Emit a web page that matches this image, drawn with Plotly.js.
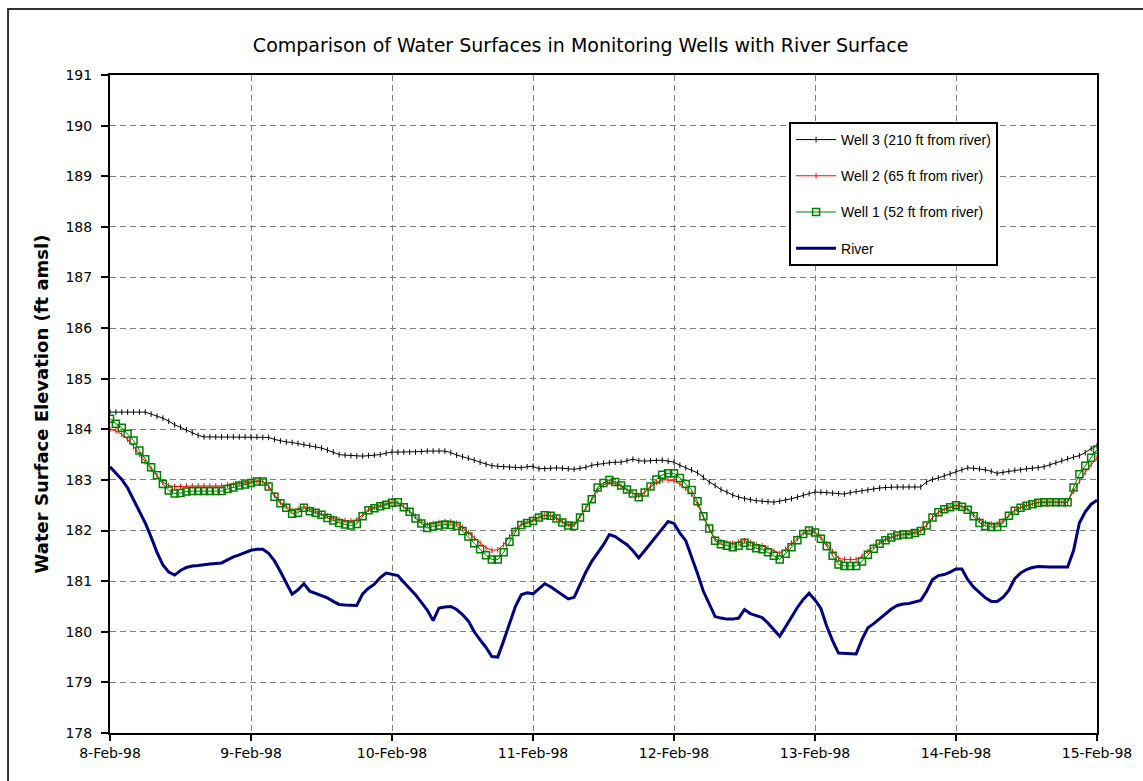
<!DOCTYPE html>
<html>
<head>
<meta charset="utf-8">
<script src="https://cdn.plot.ly/plotly-3.0.1.min.js"></script>
<style>html,body{margin:0;padding:0;background:#fff;}#chart{width:1143px;height:781px;}</style>
</head>
<body>
<div id="chart"></div>
<script>
// Hourly readings from 8-Feb-98 00:00 to 15-Feb-98 00:00
var startDate = '1998-02-08';
var tickValues = ['1998-02-08','1998-02-09','1998-02-10','1998-02-11','1998-02-12','1998-02-13','1998-02-14','1998-02-15'];
var tickLabels = ['8-Feb-98','9-Feb-98','10-Feb-98','11-Feb-98','12-Feb-98','13-Feb-98','14-Feb-98','15-Feb-98'];
var seriesNames = ['Well 3 (210 ft from river)','Well 2 (65 ft from river)','Well 1 (52 ft from river)','River'];

var well3 = [184.34,184.34,184.34,184.34,184.34,184.34,184.34,184.30,184.26,184.22,184.16,184.09,184.04,183.99,183.93,183.88,183.85,183.85,183.85,183.85,183.85,183.85,183.85,183.85,
183.85,183.85,183.84,183.84,183.80,183.77,183.75,183.74,183.72,183.70,183.68,183.66,183.63,183.59,183.55,183.50,183.49,183.48,183.47,183.47,183.48,183.49,183.50,183.53,
183.55,183.55,183.55,183.55,183.55,183.56,183.57,183.57,183.57,183.57,183.54,183.49,183.46,183.43,183.39,183.35,183.31,183.28,183.27,183.26,183.25,183.25,183.24,183.26,
183.27,183.22,183.22,183.23,183.24,183.23,183.22,183.21,183.23,183.25,183.29,183.31,183.33,183.34,183.35,183.35,183.38,183.41,183.38,183.37,183.38,183.38,183.39,183.37,
183.35,183.29,183.24,183.20,183.14,183.05,182.96,182.89,182.81,182.76,182.70,182.66,182.63,182.61,182.59,182.58,182.57,182.56,182.58,182.60,182.63,182.66,182.70,182.73,
182.76,182.76,182.75,182.74,182.73,182.72,182.75,182.77,182.78,182.80,182.82,182.84,182.85,182.86,182.86,182.86,182.86,182.86,182.86,182.96,183.01,183.04,183.08,183.12,
183.16,183.20,183.24,183.23,183.22,183.20,183.17,183.13,183.15,183.17,183.19,183.20,183.22,183.23,183.24,183.26,183.30,183.34,183.38,183.42,183.45,183.48,183.54,183.62,
183.67];

var well2 = [184.00,183.97,183.90,183.80,183.66,183.50,183.36,183.21,183.08,182.96,182.89,182.87,182.87,182.88,182.88,182.88,182.88,182.88,182.88,182.88,182.90,182.91,182.93,182.94,
182.96,182.98,182.97,182.88,182.70,182.56,182.48,182.40,182.42,182.48,182.42,182.38,182.34,182.29,182.24,182.21,182.20,182.19,182.21,182.32,182.42,182.46,182.50,182.53,
182.55,182.54,182.47,182.39,182.28,182.18,182.12,182.14,182.16,182.18,182.17,182.14,182.06,181.96,181.85,181.75,181.66,181.61,181.62,181.72,181.88,182.02,182.13,182.17,
182.20,182.26,182.30,182.29,182.25,182.18,182.12,182.12,182.28,182.45,182.60,182.80,182.90,182.96,182.93,182.87,182.80,182.74,182.69,182.76,182.86,182.95,183.00,183.00,
182.98,182.92,182.83,182.72,182.52,182.26,182.04,181.84,181.78,181.76,181.75,181.77,181.80,181.76,181.72,181.70,181.65,181.59,181.55,181.63,181.75,181.85,181.96,182.01,
181.97,181.87,181.74,181.58,181.45,181.43,181.43,181.43,181.49,181.59,181.69,181.77,181.83,181.87,181.91,181.93,181.94,181.96,182.00,182.11,182.26,182.36,182.42,182.46,
182.50,182.48,182.43,182.32,182.21,182.15,182.13,182.13,182.19,182.31,182.40,182.46,182.50,182.53,182.56,182.56,182.56,182.56,182.56,182.56,182.78,182.98,183.15,183.30,
183.43];

var well1 = [184.21,184.11,184.03,183.91,183.78,183.58,183.41,183.25,183.09,182.92,182.79,182.73,182.74,182.77,182.78,182.78,182.78,182.78,182.78,182.78,182.82,182.85,182.89,182.91,
182.94,182.97,182.97,182.87,182.67,182.54,182.45,182.33,182.35,182.45,182.38,182.35,182.31,182.25,182.20,182.15,182.12,182.10,182.13,182.28,182.40,182.44,182.48,182.51,
182.55,182.56,182.46,182.37,182.24,182.14,182.05,182.08,182.10,182.12,182.11,182.09,181.99,181.88,181.75,181.63,181.51,181.43,181.43,181.57,181.78,181.97,182.11,182.15,
182.19,182.26,182.30,182.29,182.24,182.16,182.10,182.09,182.26,182.45,182.62,182.85,182.94,183.00,182.96,182.89,182.81,182.73,182.66,182.75,182.87,183.01,183.10,183.13,
183.13,183.04,182.92,182.80,182.58,182.28,182.04,181.80,181.73,181.70,181.67,181.70,181.76,181.70,181.65,181.63,181.57,181.50,181.43,181.54,181.67,181.81,181.93,182.00,
181.96,181.84,181.69,181.50,181.33,181.30,181.30,181.30,181.39,181.52,181.64,181.74,181.81,181.86,181.90,181.92,181.92,181.95,181.99,182.10,182.26,182.36,182.42,182.46,
182.50,182.47,182.41,182.28,182.15,182.09,182.07,182.07,182.15,182.29,182.39,182.45,182.49,182.52,182.55,182.56,182.56,182.56,182.56,182.56,182.85,183.11,183.28,183.44,
183.60];

var river = [183.26,183.13,183.01,182.84,182.61,182.39,182.15,181.87,181.57,181.32,181.18,181.12,181.21,181.27,181.30,181.31,181.33,181.34,181.35,181.36,181.42,181.48,181.52,181.56,
181.61,181.63,181.63,181.55,181.40,181.19,180.96,180.74,180.83,180.95,180.80,180.76,180.72,180.67,180.60,180.54,180.53,180.52,180.52,180.75,180.86,180.94,181.07,181.16,
181.14,181.11,180.98,180.86,180.73,180.58,180.43,180.22,180.47,180.49,180.50,180.44,180.34,180.21,180.00,179.84,179.69,179.51,179.50,179.82,180.17,180.50,180.73,180.77,
180.75,180.85,180.95,180.89,180.81,180.72,180.65,180.68,180.93,181.18,181.39,181.56,181.72,181.92,181.88,181.80,181.72,181.60,181.46,181.60,181.75,181.90,182.05,182.18,
182.14,181.95,181.80,181.49,181.15,180.80,180.54,180.30,180.27,180.25,180.25,180.27,180.44,180.36,180.32,180.28,180.17,180.05,179.91,180.10,180.29,180.48,180.64,180.76,
180.63,180.46,180.11,179.82,179.58,179.57,179.56,179.56,179.85,180.08,180.16,180.26,180.36,180.45,180.52,180.55,180.56,180.59,180.62,180.80,181.03,181.11,181.13,181.18,
181.24,181.24,181.03,180.88,180.77,180.67,180.60,180.60,180.68,180.82,181.05,181.16,181.23,181.27,181.29,181.28,181.28,181.28,181.28,181.28,181.60,182.15,182.37,182.52,
182.60];

// time stamps for each hourly reading
function hourStamps(n) {
  var base = Date.parse(startDate + 'T00:00:00Z');
  var out = [];
  for (var i = 0; i < n; i++) {
    out.push(new Date(base + i * 3600000).toISOString().slice(0, 16).replace('T', ' '));
  }
  return out;
}
var times = hourStamps(river.length);

var traces = [
  {x: times, y: well3, name: seriesNames[0], type: 'scatter', mode: 'lines+markers', legendgroup: 'g3',
   line: {color: '#000000', width: 1}, marker: {symbol: 'line-ns-open', size: 4, color: '#000000', line: {color: '#000000', width: 1}}},
  {x: times, y: well2, name: seriesNames[1], type: 'scatter', mode: 'lines+markers', legendgroup: 'g2',
   line: {color: '#ff0000', width: 1}, marker: {symbol: 'line-ns-open', size: 4, color: '#ff0000', line: {color: '#ff0000', width: 1}}},
  {x: times, y: well1, name: seriesNames[2], type: 'scatter', mode: 'lines+markers', legendgroup: 'g1',
   line: {color: '#008000', width: 1}, marker: {symbol: 'square-open', size: 7, color: '#008000', line: {color: '#008000', width: 1.5}}},
  {x: times, y: river, name: seriesNames[3], type: 'scatter', mode: 'lines', legendgroup: 'g0',
   line: {color: '#000080', width: 3}}
];

var axisFont = {family: '"DejaVu Sans", Arial, sans-serif', size: 14, color: '#000'};

var layout = {
  width: 1143, height: 781,
  margin: {l: 110, r: 46, t: 75, b: 48, pad: 0},
  paper_bgcolor: '#ffffff', plot_bgcolor: '#ffffff',
  showlegend: true,
  title: {text: 'Comparison of Water Surfaces in Monitoring Wells with River Surface',
          font: {family: '"DejaVu Sans", Arial, sans-serif', size: 19, color: '#000'},
          x: 0.508, xanchor: 'center', y: 0.942, yanchor: 'middle'},
  xaxis: {
    type: 'date', range: ['1998-02-08', '1998-02-15'],
    tickmode: 'array', tickvals: tickValues, ticktext: tickLabels,
    ticks: 'outside', ticklen: 6, tickwidth: 2, tickcolor: '#000',
    showline: true, linecolor: '#000', linewidth: 2, mirror: true,
    showgrid: true, gridcolor: '#808080', gridwidth: 1, griddash: '6px,4px',
    zeroline: false, tickfont: axisFont
  },
  yaxis: {
    range: [178, 191], dtick: 1, tick0: 178,
    ticks: 'outside', ticklen: 7, tickwidth: 2, tickcolor: '#000', ticklabelstandoff: 6,
    showline: true, linecolor: '#000', linewidth: 2, mirror: true,
    showgrid: true, gridcolor: '#808080', gridwidth: 1, griddash: '6px,4px',
    zeroline: false, tickfont: axisFont,
    title: {text: 'Water Surface Elevation (ft amsl)', standoff: 12,
            font: {family: '"DejaVu Sans", Arial, sans-serif', size: 18, color: '#000', weight: 'bold'}}
  },
  legend: {
    x: 0.688, y: 0.9286, xanchor: 'left', yanchor: 'top',
    bgcolor: '#ffffff', bordercolor: '#000000', borderwidth: 2,
    font: {family: 'Arial, "Liberation Sans", sans-serif', size: 14, color: '#000'},
    traceorder: 'grouped', tracegroupgap: 15, itemwidth: 40
  },
  shapes: [
    {type: 'rect', xref: 'paper', yref: 'paper', x0: -0.1033, x1: 1.06, y0: -0.09, y1: 1.1003,
     line: {color: '#333333', width: 2}, fillcolor: 'rgba(0,0,0,0)', layer: 'below'}
  ]
};

Plotly.newPlot('chart', traces, layout, {displayModeBar: false, staticPlot: true});
</script>
</body>
</html>
